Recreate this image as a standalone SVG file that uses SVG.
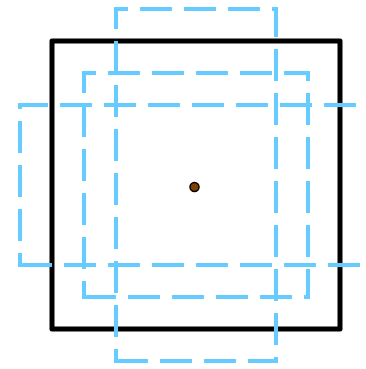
<svg xmlns="http://www.w3.org/2000/svg" width="366" height="369" viewBox="0 0 366 369">
<style>
.frame{fill:none;stroke:#000;stroke-width:5;stroke-linejoin:round}
.dash{fill:none;stroke:#66ccff;stroke-width:4;stroke-dasharray:32 12;stroke-linejoin:miter}
.dot{fill:#7f3f00;stroke:#000;stroke-width:1.5}
</style>
<rect width="366" height="369" fill="#fff"/>
<g id="frame"><rect class="frame" x="52" y="41" width="288" height="288"/></g>
<g id="dashed">
<path id="tall" class="dash" d="M116,361 H276 V9 H116 Z"/>
<path id="square" class="dash" d="M84,297 H308 V73 H84 Z"/>
<path id="wide" class="dash" d="M20,265 H372 V105 H20 Z"/>
</g>
<g id="center"><circle class="dot" cx="194.5" cy="187" r="4.5"/></g>
</svg>
